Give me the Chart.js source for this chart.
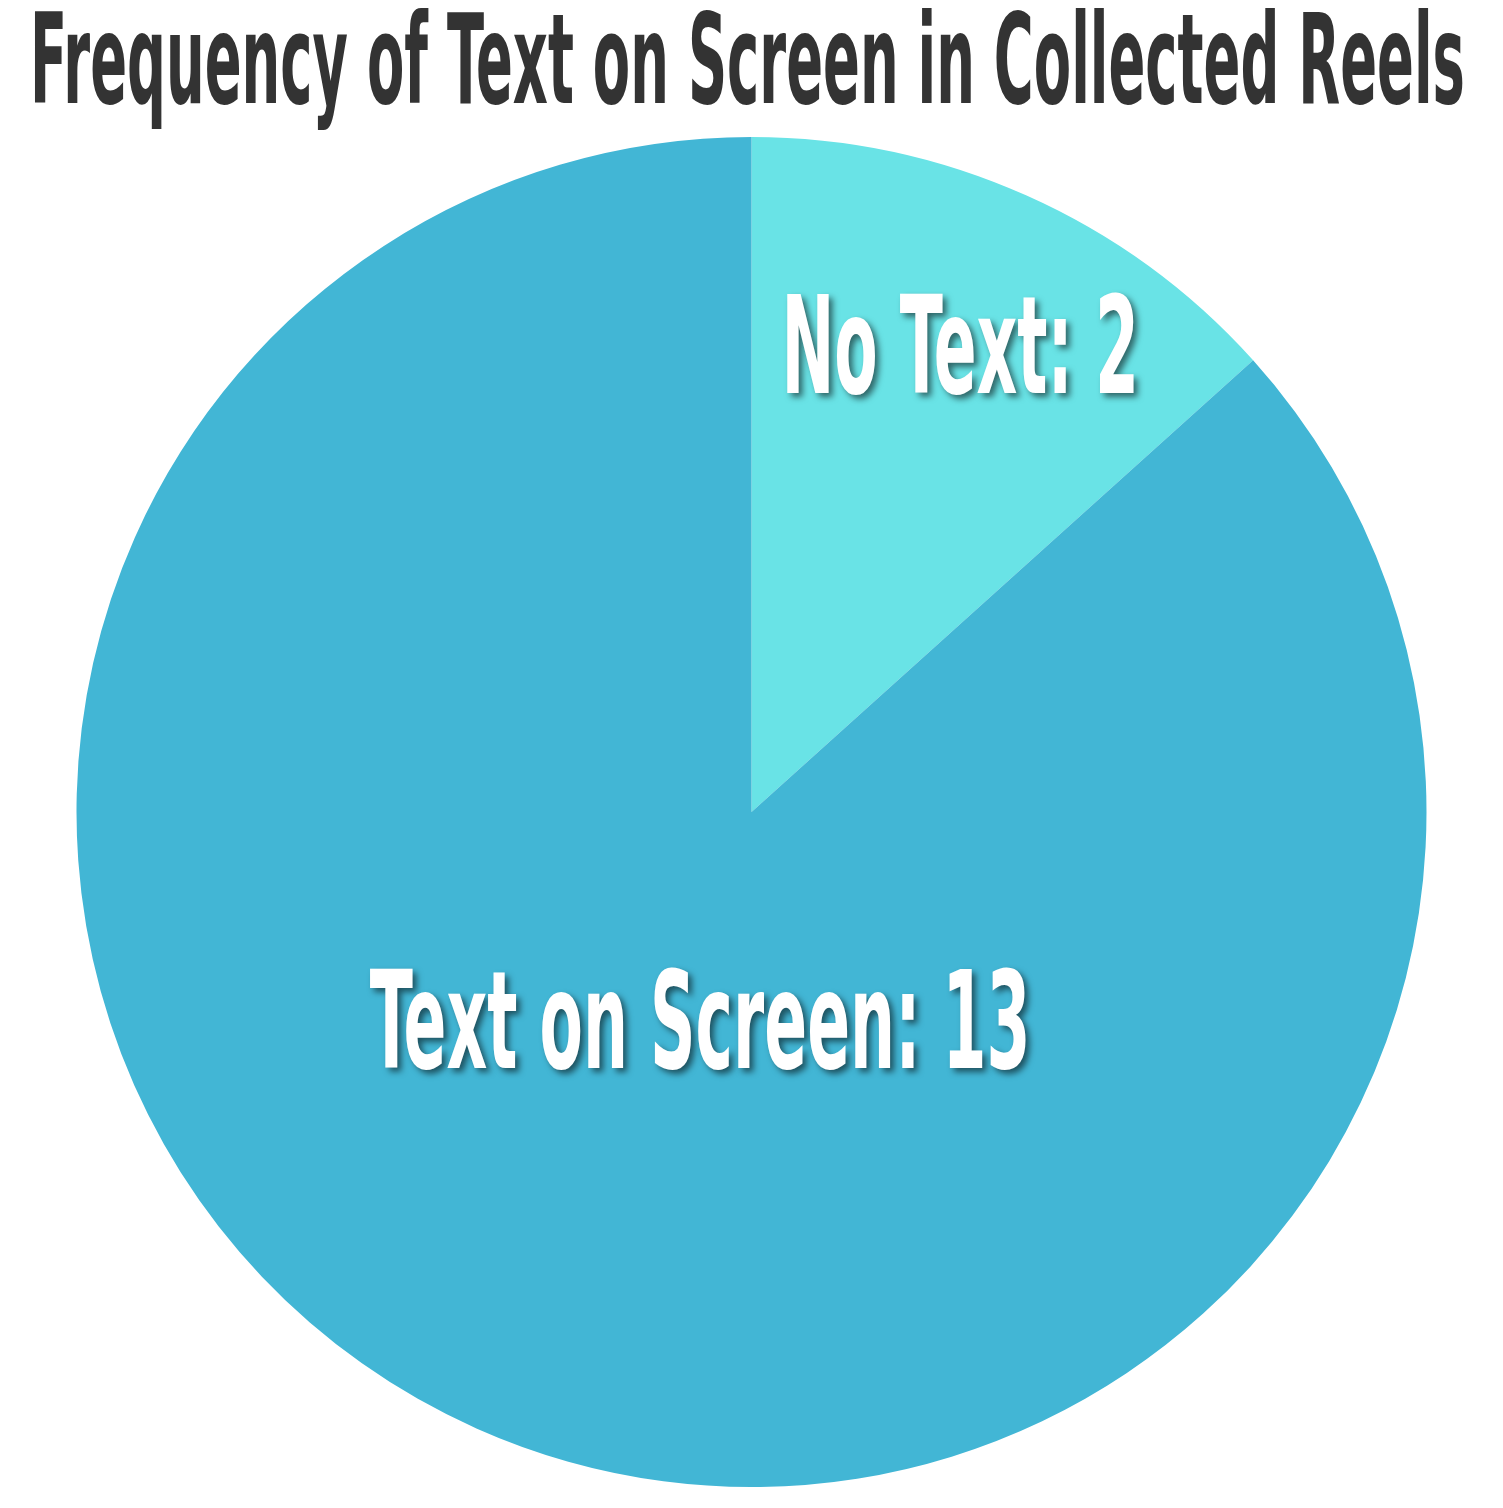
<!DOCTYPE html>
<html>
<head>
<meta charset="utf-8">
<script src="https://cdn.jsdelivr.net/npm/chart.js@4.4.1/dist/chart.umd.min.js"></script>
<style>
  html, body { margin: 0; padding: 0; background: #ffffff; }
  #wrap { width: 1503px; height: 1508px; }
</style>
</head>
<body>
<div id="wrap"><canvas id="c" width="1503" height="1508"></canvas></div>
<script>
// ---- data ----
const TITLE = 'Frequency of Text on Screen in Collected Reels';
const CATEGORIES = ['No Text', 'Text on Screen'];
const VALUES = [2, 13];

// ---- styles ----
const COLORS = ['#69e3e6', '#42b6d5'];
const FONT_FAMILY = '"Liberation Sans Narrow", "DejaVu Sans Condensed", "Liberation Sans", sans-serif';
const TITLE_SIZE = 124;
const TITLE_TARGET_WIDTH = 1435;
const TITLE_BASELINE = 103;
const LABEL_SIZE = 136;
const LABEL_CONDENSE_ADJ = 0.975;
const LABEL_POS = [ { f: 0.76, da: 0 }, { f: 0.315, da: -10 } ]; // radius fraction, angle nudge (deg)

let condense = 1;

const textPlugin = {
  id: 'customText',
  afterDraw(chart) {
    const ctx = chart.ctx;
    // title
    ctx.save();
    ctx.font = 'bold ' + TITLE_SIZE + 'px ' + FONT_FAMILY;
    const w = ctx.measureText(TITLE).width;
    condense = TITLE_TARGET_WIDTH / w;
    ctx.fillStyle = '#333333';
    ctx.textAlign = 'center';
    ctx.textBaseline = 'alphabetic';
    ctx.translate(chart.width / 2 - 4, TITLE_BASELINE);
    ctx.scale(condense, 1);
    ctx.fillText(TITLE, 0, 0);
    ctx.restore();

    // slice labels
    const meta = chart.getDatasetMeta(0);
    meta.data.forEach((arc, i) => {
      const p = arc.getProps(['x', 'y', 'startAngle', 'endAngle', 'outerRadius'], true);
      const mid = (p.startAngle + p.endAngle) / 2 + LABEL_POS[i].da * Math.PI / 180;
      const r = p.outerRadius * LABEL_POS[i].f;
      const cx = p.x + Math.cos(mid) * r;
      const cy = p.y + Math.sin(mid) * r;
      const text = CATEGORIES[i] + ': ' + VALUES[i];
      ctx.save();
      ctx.font = 'bold ' + LABEL_SIZE + 'px ' + FONT_FAMILY;
      ctx.fillStyle = '#ffffff';
      ctx.textAlign = 'center';
      ctx.textBaseline = 'alphabetic';
      ctx.shadowColor = 'rgba(0,0,0,0.55)';
      ctx.shadowOffsetX = 4;
      ctx.shadowOffsetY = 4;
      ctx.shadowBlur = 6;
      ctx.translate(cx, cy + LABEL_SIZE * 0.729 / 2);
      ctx.scale(condense * (TITLE_SIZE / 114) * LABEL_CONDENSE_ADJ, 1);
      ctx.fillText(text, 0, 0);
      ctx.restore();
    });
  }
};

new Chart(document.getElementById('c'), {
  type: 'pie',
  data: {
    labels: CATEGORIES,
    datasets: [{
      data: VALUES,
      backgroundColor: COLORS,
      borderWidth: 0
    }]
  },
  options: {
    responsive: false,
    animation: false,
    layout: { padding: { top: 137, bottom: 21, left: 0, right: 0 } },
    plugins: {
      legend: { display: false },
      tooltip: { enabled: false },
      title: { display: false }
    }
  },
  plugins: [textPlugin]
});
</script>
</body>
</html>
